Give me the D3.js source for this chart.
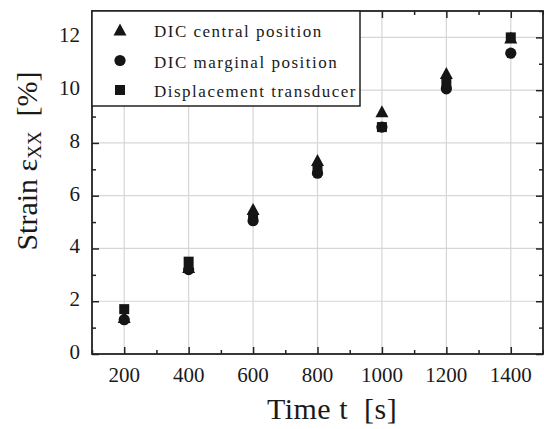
<!DOCTYPE html>
<html>
<head>
<meta charset="utf-8">
<script src="https://cdn.jsdelivr.net/npm/d3@7"></script>
<style>
  html, body { margin: 0; padding: 0; background: #fff; }
  svg { display: block; }
  text { font-family: "Liberation Serif", "Times New Roman", serif; fill: #1a1a1a; }
</style>
</head>
<body>
<svg id="chart" width="544" height="429"></svg>
<script>
// Strain measured at each time step
const times = [200, 400, 600, 800, 1000, 1200, 1400];
const dicCentral = [1.4, 3.3, 5.5, 7.35, 9.2, 10.65, 12.0];
const dicMarginal = [1.3, 3.2, 5.05, 6.85, 8.6, 10.05, 11.4];
const transducer = [1.7, 3.5, 5.2, 6.95, 8.6, 10.25, 12.0];

const seriesNames = ["DIC central position", "DIC marginal position", "Displacement transducer"];
const seriesShapes = ["triangle", "circle", "square"];

const xMajor = [200, 400, 600, 800, 1000, 1200, 1400];
const xMinor = [100, 300, 500, 700, 900, 1100, 1300, 1500];
const yMajor = [0, 2, 4, 6, 8, 10, 12];
const yMinor = [1, 3, 5, 7, 9, 11, 13];

const W = 544, H = 429;
const plot = { left: 92, right: 543, top: 11, bottom: 354 };

const svg = d3.select("#chart");
const x = d3.scaleLinear().domain([100, 1500]).range([plot.left, plot.right]);
const y = d3.scaleLinear().domain([0, 13]).range([plot.bottom, plot.top]);

// grid
const grid = svg.append("g").attr("stroke", "#d6d6d6").attr("stroke-width", 1.2);
grid.selectAll("line.gx").data(xMajor).join("line")
  .attr("x1", d => x(d)).attr("x2", d => x(d))
  .attr("y1", plot.top).attr("y2", plot.bottom);
grid.selectAll("line.gy").data(yMajor.filter(d => d > 0)).join("line")
  .attr("x1", plot.left).attr("x2", plot.right)
  .attr("y1", d => y(d)).attr("y2", d => y(d));

// axes with inward ticks
const axisColor = "#222";
function styleAxis(g) {
  g.select(".domain").remove();
  g.selectAll("line").attr("stroke", axisColor).attr("stroke-width", 1.5);
}
svg.append("g").attr("transform", `translate(0,${plot.bottom})`)
  .call(d3.axisTop(x).tickValues(xMajor).tickSize(7).tickFormat(""))
  .call(styleAxis);
svg.append("g").attr("transform", `translate(0,${plot.bottom})`)
  .call(d3.axisTop(x).tickValues(xMinor).tickSize(4).tickFormat(""))
  .call(styleAxis);
svg.append("g").attr("transform", `translate(0,${plot.top})`)
  .call(d3.axisBottom(x).tickValues(xMajor).tickSize(7).tickFormat(""))
  .call(styleAxis);
svg.append("g").attr("transform", `translate(0,${plot.top})`)
  .call(d3.axisBottom(x).tickValues(xMinor).tickSize(4).tickFormat(""))
  .call(styleAxis);
svg.append("g").attr("transform", `translate(${plot.left},0)`)
  .call(d3.axisRight(y).tickValues(yMajor).tickSize(7).tickFormat(""))
  .call(styleAxis);
svg.append("g").attr("transform", `translate(${plot.left},0)`)
  .call(d3.axisRight(y).tickValues(yMinor).tickSize(4).tickFormat(""))
  .call(styleAxis);
svg.append("g").attr("transform", `translate(${plot.right},0)`)
  .call(d3.axisLeft(y).tickValues(yMajor).tickSize(7).tickFormat(""))
  .call(styleAxis);
svg.append("g").attr("transform", `translate(${plot.right},0)`)
  .call(d3.axisLeft(y).tickValues(yMinor).tickSize(4).tickFormat(""))
  .call(styleAxis);

// tick labels
svg.append("g").selectAll("text").data(xMajor).join("text")
  .attr("x", d => x(d)).attr("y", plot.bottom + 28)
  .attr("text-anchor", "middle").attr("font-size", 21)
  .text(d => d);
svg.append("g").selectAll("text").data(yMajor).join("text")
  .attr("x", 80).attr("y", d => y(d) + 5)
  .attr("text-anchor", "end").attr("font-size", 21)
  .text(d => d);

// frame
svg.append("rect")
  .attr("x", plot.left).attr("y", plot.top)
  .attr("width", plot.right - plot.left).attr("height", plot.bottom - plot.top)
  .attr("fill", "none").attr("stroke", axisColor).attr("stroke-width", 1.8);

// markers
function markerPath(shape) {
  if (shape === "triangle") return "M0,-6L6.5,6L-6.5,6Z";
  if (shape === "square") return "M-5,-5H5V5H-5Z";
  return d3.arc()({ innerRadius: 0, outerRadius: 5.6, startAngle: 0, endAngle: 2 * Math.PI });
}
const series = [dicCentral, dicMarginal, transducer];
series.forEach((vals, i) => {
  svg.append("g").selectAll("path").data(times.map((t, k) => [t, vals[k]])).join("path")
    .attr("transform", d => `translate(${x(d[0])},${y(d[1])})`)
    .attr("d", markerPath(seriesShapes[i]))
    .attr("fill", "#151515");
});

// legend
const legend = svg.append("g");
legend.append("rect")
  .attr("x", plot.left).attr("y", plot.top)
  .attr("width", 360 - plot.left).attr("height", 106 - plot.top)
  .attr("fill", "#fff").attr("stroke", axisColor).attr("stroke-width", 1.5);
const legendRows = [29.5, 60.5, 90];
seriesNames.forEach((name, i) => {
  legend.append("path")
    .attr("transform", `translate(120,${legendRows[i]})`)
    .attr("d", markerPath(seriesShapes[i]))
    .attr("fill", "#151515");
  legend.append("text")
    .attr("x", 154).attr("y", legendRows[i] + 7)
    .attr("font-size", 17).attr("letter-spacing", 1.5)
    .text(name);
});

// axis titles
svg.append("text")
  .attr("x", 332).attr("y", 419)
  .attr("text-anchor", "middle").attr("font-size", 30)
  .attr("letter-spacing", 0.5)
  .style("white-space", "pre")
  .text("Time t  [s]");

const yTitle = svg.append("text")
  .attr("transform", "translate(37,161) rotate(-90)")
  .attr("text-anchor", "middle").attr("font-size", 30)
  .style("white-space", "pre");
yTitle.append("tspan").text("Strain ε");
yTitle.append("tspan").attr("font-size", 19).attr("dy", 4).text("XX");
yTitle.append("tspan").attr("dy", -4).text("  [%]");
</script>
</body>
</html>
